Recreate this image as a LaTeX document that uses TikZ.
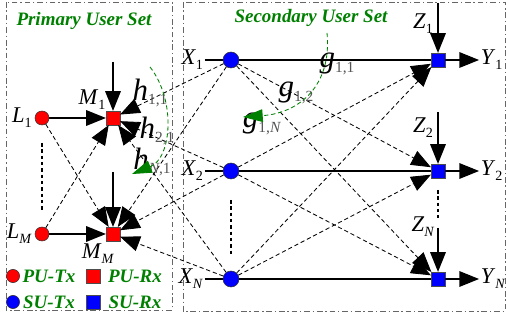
\documentclass[tikz,border=0pt]{standalone}
\usepackage{fontspec}
\setmainfont{Liberation Serif}
\usetikzlibrary{positioning,arrows.meta}

\definecolor{setgreen}{RGB}{0,128,0}
\definecolor{subgray}{RGB}{85,85,85}
\newcommand{\lab}[2]{\textit{#1}\raisebox{-0.5ex}{\fontsize{10}{10}\selectfont #2}}
\newcommand{\chan}[2]{{\fontsize{22}{22}\selectfont\textit{#1}}\raisebox{-0.7ex}{\fontsize{11}{11}\selectfont\color{subgray}#2}}

\begin{document}
\begin{tikzpicture}[x=0.025cm, y=-0.025cm,
        PT/.style={circle, draw=black!80, fill=red, minimum size=0.35cm, inner sep=0pt},
        PR/.style={rectangle, draw=black!70, fill=red, minimum size=0.34cm, inner sep=0pt},
        ST/.style={PT, fill=blue, minimum size=0.4cm},
        SR/.style={PR, fill=blue},
        lbl/.style={font=\fontsize{16}{16}\selectfont, inner sep=1pt},
        chanlbl/.style={inner sep=0pt},
        legtxt/.style={font=\fontsize{13.5}{13.5}\selectfont\bfseries\itshape, text=setgreen, inner sep=0pt},
        sig/.style={line width=1.1pt, -{Triangle[length=14pt, width=11pt]}},
        intf/.style={line width=0.6pt, dash pattern=on 3pt off 2pt, -{Triangle[length=14pt, width=11pt]}},
        hop/.style={setgreen, line width=0.6pt, dash pattern=on 3pt off 2pt, -{Triangle[length=14pt, width=9pt]}},
        setbox/.style={draw=black!60, line width=0.6pt, dash pattern=on 4pt off 2pt on 1pt off 2pt},
        vdots/.style={line width=2pt, dash pattern=on 2.5pt off 2pt}
    ]
    \useasboundingbox (0,0) rectangle (506,320);

    % user sets
    \draw[setbox] (6,2) rectangle (172,310);
    \draw[setbox] (183,2) rectangle (505,311);
    \node[legtxt] (prim) at (84,21)  {Primary User Set};
    \node[legtxt] (sec)  at (311,18) {Secondary User Set};

    % primary users
    \node[PT] (L1) at (42,118) {};
    \node[PR] (M1) at (113,118) {};
    \node[PT] (LM) at (42,234) {};
    \node[PR] (MM) at (113,234) {};
    \node[lbl, left=1pt of L1] (l1lab) {\lab{L}{1}};
    \node[lbl, left=1pt of LM] (lMlab) {\lab{L}{\textit{M}}};
    \node[lbl] (m1lab) at (92,100) {\lab{M}{1}};
    \node[lbl] (mMlab) at (98,254) {\lab{M}{\textit{M}}};
    \coordinate (m1in) at (113,62);
    \coordinate (mMin) at (113,172);

    % secondary users
    \node[ST] (X1) at (231,60) {};
    \node[ST] (X2) at (231,171) {};
    \node[ST] (XN) at (231,279) {};
    \node[SR] (Y1) at (438,60) {};
    \node[SR] (Y2) at (438,171) {};
    \node[SR] (YN) at (438,279) {};
    \node[lbl, left=0.45cm of X1] (xl1) {\lab{X}{1}};
    \node[lbl, left=0.45cm of X2] (xl2) {\lab{X}{2}};
    \node[lbl, left=0.45cm of XN] (xlN) {\lab{X}{\textit{N}}};
    \node[lbl, right=0.85cm of Y1] (yl1) {\lab{Y}{1}};
    \node[lbl, right=0.85cm of Y2] (yl2) {\lab{Y}{2}};
    \node[lbl, right=0.85cm of YN] (ylN) {\lab{Y}{\textit{N}}};
    \node[lbl] (zl1) at (423,24)  {\lab{Z}{1}};
    \node[lbl] (zl2) at (423,128) {\lab{Z}{2}};
    \node[lbl] (zlN) at (423,227) {\lab{Z}{\textit{N}}};
    \coordinate (z1in) at (438,3);
    \coordinate (z2in) at (438,112);
    \coordinate (zNin) at (438,228);

    % legend
    \node[PT, minimum size=0.33cm] (legpt) at (13,276) {};
    \node[legtxt] (legpttxt) at (49,276) {PU-Tx};
    \node[PR] (legpr) at (93,276) {};
    \node[legtxt] (legprtxt) at (135,276) {PU-Rx};
    \node[ST, minimum size=0.33cm] (legst) at (13,302) {};
    \node[legtxt] (legsttxt) at (49,302) {SU-Tx};
    \node[SR] (legsr) at (93,302) {};
    \node[legtxt] (legsrtxt) at (135,302) {SU-Rx};

    % direct links
    \draw[sig] (L1) -- (M1);
    \draw[sig] (LM) -- (MM);
    \draw[sig] (m1in) -- (M1);
    \draw[sig] (mMin) -- (MM);
    \draw[line width=1.1pt] (xl1.east) -- (X1) -- (Y1);
    \draw[line width=1.1pt] (xl2.east) -- (X2) -- (Y2);
    \draw[line width=1.1pt] (xlN.east) -- (XN) -- (YN);
    \draw[sig] (z1in) -- (Y1);
    \draw[sig] (z2in) -- (Y2);
    \draw[sig] (zNin) -- (YN);
    \draw[sig] (Y1) -- (yl1);
    \draw[sig] (Y2) -- (yl2);
    \draw[sig] (YN) -- (ylN);

    % interference links
    \draw[intf] (L1) -- (MM);
    \draw[intf] (LM) -- (M1);
    \draw[intf] (X1) -- (M1);
    \draw[intf] (X2) -- (M1);
    \draw[intf] (XN) -- (M1);
    \draw[intf] (X1) -- (MM);
    \draw[intf] (X2) -- (MM);
    \draw[intf] (XN) -- (MM);
    \draw[intf] (X1) -- (Y2);
    \draw[intf] (X1) -- (YN);
    \draw[intf] (X2) -- (Y1);
    \draw[intf] (X2) -- (YN);
    \draw[intf] (XN) -- (Y1);
    \draw[intf] (XN) -- (Y2);

    % dots
    \draw[vdots] (42,143) -- (42,210);
    \draw[vdots] (231,200) -- (231,256);
    \draw[vdots] (438,190) -- (438,218);

    % channel gains
    \node[chanlbl] (h11) at (150,93)  {\chan{h}{1,1}};
    \node[chanlbl] (h21) at (157,131) {\chan{h}{2,1}};
    \node[chanlbl] (hN1) at (152,162) {\chan{h}{\textit{N},1}};
    \node[chanlbl] (g11) at (337,64)  {\chan{g}{1,1}};
    \node[chanlbl] (g12) at (296,93)  {\chan{g}{1,2}};
    \node[chanlbl] (g1N) at (262,124) {\chan{g}{1,\textit{N}}};
    \coordinate (harc) at (150,67);
    \coordinate (garc) at (327,33);
    \draw[hop] (harc) .. controls (176,100) and (172,158) .. (132,174);
    \draw[hop] (garc) .. controls (332,85) and (300,113) .. (243,117);
\end{tikzpicture}
\end{document}
